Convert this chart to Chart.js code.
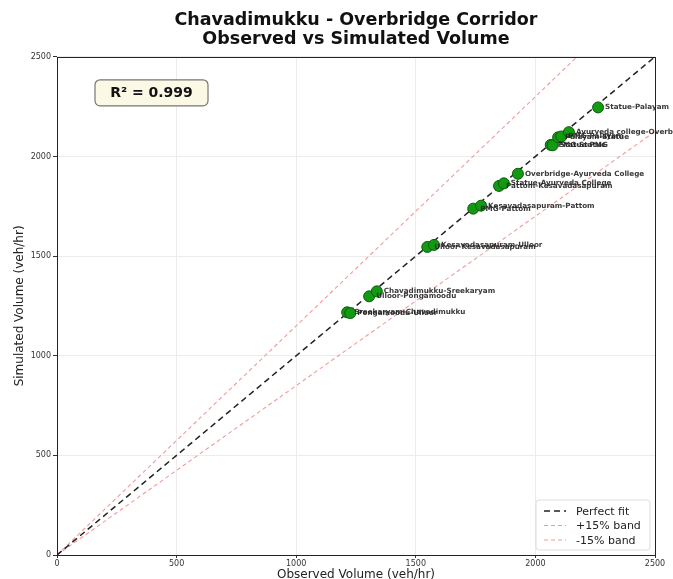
<!DOCTYPE html>
<html>
<head>
<meta charset="utf-8">
<script src="https://cdn.jsdelivr.net/npm/chart.js@4"></script>
<style>
  html, body { margin: 0; padding: 0; background: #fff; }
</style>
</head>
<body>
<canvas id="volChart" width="673" height="579"></canvas>
<script>
// Link volumes (veh/hr)
const linkNames = [
    'Sreekaryam-Chavadimukku', 'Pongamoodu-Ulloor',
    'Ulloor-Pongamoodu', 'Chavadimukku-Sreekaryam',
    'Ulloor-Kesavadasapuram', 'Kesavadasapuram-Ulloor',
    'PMG-Pattom', 'Kesavadasapuram-Pattom',
    'Pattom-Kesavadasapuram', 'Statue-Ayurveda College',
    'Overbridge-Ayurveda College',
    'PMG-Statue', 'Statue-PMG',
    'Palayam-Statue', 'PMG-Palayam', 'Ayurveda college-Overbridge',
    'Statue-Palayam'
];
const observed = [
    1213, 1226,
    1305, 1337,
    1548, 1576,
    1740, 1773,
    1848, 1868,
    1927,
    2064, 2072,
    2095, 2108, 2140,
    2262
];
const simulated = [
    1218, 1214,
    1298, 1323,
    1546, 1556,
    1738, 1753,
    1852, 1865,
    1913,
    2058, 2056,
    2096, 2100, 2122,
    2246
];
const axisMax = 2500;
const tickStep = 500;
const bandPct = 0.15;
const rSquaredText = 'R\u00b2 = 0.999';

const FONT = "'DejaVu Sans', sans-serif";

const points = observed.map((x, i) => ({ x: x, y: simulated[i], name: linkNames[i] }));
const lineThrough = (k) => [{ x: 0, y: 0 }, { x: axisMax, y: axisMax * k }];

// labels next to each point
const pointLabels = {
    id: 'pointLabels',
    afterDatasetsDraw(chart) {
        const ctx = chart.ctx;
        const meta = chart.getDatasetMeta(0);
        ctx.save();
        ctx.font = 'bold 7.2px ' + FONT;
        ctx.fillStyle = 'rgba(35,35,35,0.9)';
        ctx.textBaseline = 'middle';
        meta.data.forEach((el, i) => {
            ctx.fillText(points[i].name, el.x + 7, el.y);
        });
        ctx.restore();
    }
};

// frame, R² box and legend
const decorations = {
    id: 'decorations',
    afterDraw(chart) {
        const ctx = chart.ctx;
        const a = chart.chartArea;
        ctx.save();
        ctx.strokeStyle = '#222';
        ctx.lineWidth = 1;
        ctx.strokeRect(Math.round(a.left) + 0.5, Math.round(a.top) + 0.5,
            Math.round(a.right - a.left), Math.round(a.bottom - a.top));

        // R² box
        const bx = a.left + 38, by = a.top + 23, bw = 113, bh = 26;
        ctx.beginPath();
        ctx.roundRect(bx, by, bw, bh, 5);
        ctx.fillStyle = '#fbf8e6';
        ctx.fill();
        ctx.strokeStyle = '#777';
        ctx.lineWidth = 1.2;
        ctx.stroke();
        ctx.fillStyle = '#111';
        ctx.font = 'bold 14px ' + FONT;
        ctx.textAlign = 'center';
        ctx.textBaseline = 'middle';
        ctx.fillText(rSquaredText, bx + bw / 2, by + bh / 2 + 1);

        // legend
        const lx = a.right - 119, ly = a.bottom - 55, lw = 114, lh = 50;
        ctx.beginPath();
        ctx.roundRect(lx, ly, lw, lh, 3);
        ctx.fillStyle = 'rgba(255,255,255,0.85)';
        ctx.fill();
        ctx.strokeStyle = '#ddd';
        ctx.lineWidth = 1;
        ctx.stroke();
        ctx.textAlign = 'left';
        ctx.font = '11px ' + FONT;
        chart.data.datasets.slice(1).forEach((ds, i) => {
            const yy = ly + 11 + i * 14.5;
            ctx.beginPath();
            ctx.setLineDash(ds.borderDash);
            ctx.strokeStyle = ds.borderColor;
            ctx.lineWidth = ds.borderWidth;
            ctx.moveTo(lx + 8, yy);
            ctx.lineTo(lx + 30, yy);
            ctx.stroke();
            ctx.setLineDash([]);
            ctx.fillStyle = '#222';
            ctx.fillText(ds.label, lx + 40, yy + 1);
        });
        ctx.restore();
    }
};

const plainTick = (v) => String(v);

new Chart(document.getElementById('volChart'), {
    type: 'scatter',
    data: {
        datasets: [
            {
                label: 'Links',
                data: points,
                backgroundColor: '#139a13',
                borderColor: '#0a5c0a',
                borderWidth: 1,
                pointRadius: 5.5,
                order: 0
            },
            {
                type: 'line',
                label: 'Perfect fit',
                data: lineThrough(1),
                borderColor: '#222',
                borderWidth: 1.5,
                borderDash: [6, 4],
                pointRadius: 0,
                fill: false,
                order: 1
            },
            {
                type: 'line',
                label: '+15% band',
                data: lineThrough(1 + bandPct),
                borderColor: '#f29a9a',
                borderWidth: 1.1,
                borderDash: [4, 3],
                pointRadius: 0,
                fill: false,
                order: 2
            },
            {
                type: 'line',
                label: '-15% band',
                data: lineThrough(1 - bandPct),
                borderColor: '#f29a9a',
                borderWidth: 1.1,
                borderDash: [4, 3],
                pointRadius: 0,
                fill: false,
                order: 3
            }
        ]
    },
    options: {
        responsive: false,
        animation: false,
        layout: { padding: { left: 13, right: 18, top: 0, bottom: 0 } },
        plugins: {
            legend: { display: false },
            tooltip: { enabled: false },
            title: {
                display: true,
                fullSize: false,
                text: ['Chavadimukku - Overbridge Corridor', 'Observed vs Simulated Volume'],
                font: { family: FONT, size: 17.5, weight: 'bold', lineHeight: 1.08 },
                color: '#111',
                padding: { top: 11, bottom: 8 }
            }
        },
        scales: {
            x: {
                type: 'linear',
                min: 0,
                max: axisMax,
                ticks: { stepSize: tickStep, font: { family: FONT, size: 8 }, color: '#333', padding: 1, callback: plainTick },
                grid: { color: '#ececec', tickColor: '#333', tickLength: 3 },
                border: { display: false },
                title: { display: true, text: 'Observed Volume (veh/hr)', font: { family: FONT, size: 12, lineHeight: 1.0 }, color: '#222', padding: { top: 0, bottom: -2 } },
                afterFit(scale) { scale.height = 24; }
            },
            y: {
                type: 'linear',
                min: 0,
                max: axisMax,
                ticks: { stepSize: tickStep, font: { family: FONT, size: 8 }, color: '#333', padding: 2, callback: plainTick },
                grid: { color: '#ececec', tickColor: '#333', tickLength: 4 },
                border: { display: false },
                title: { display: true, text: 'Simulated Volume (veh/hr)', font: { family: FONT, size: 12 }, color: '#222', padding: 0 },
                afterFit(scale) { scale.width = 44; }
            }
        }
    },
    plugins: [pointLabels, decorations]
});
</script>
</body>
</html>
